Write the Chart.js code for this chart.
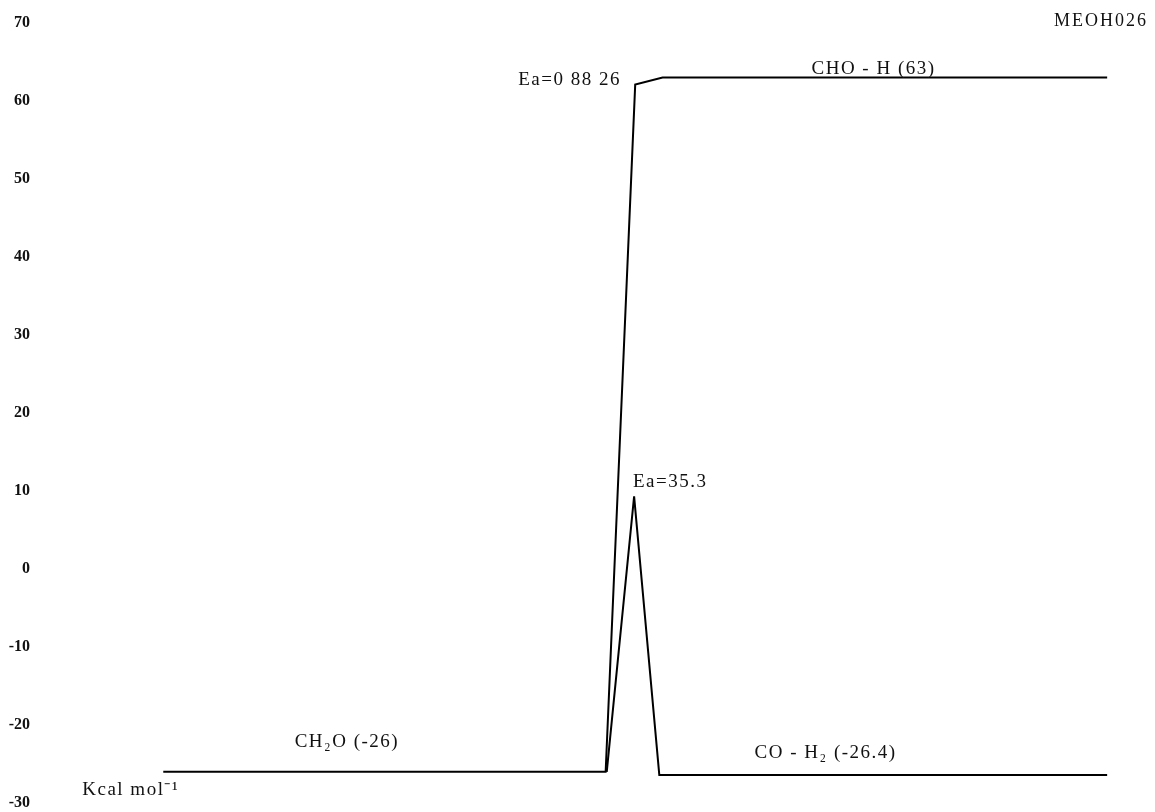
<!DOCTYPE html>
<html lang="en">
<head>
    <meta charset="UTF-8">
    <title>MEOH026 energy profile</title>
    <script src="https://cdn.jsdelivr.net/npm/chart.js"></script>
    <style>
        body { margin: 0; background: #fff; }
        .container { width: 1155px; height: 812px; position: relative; }
    </style>
</head>
<body>
    <div class="container">
        <canvas id="chart"></canvas>
    </div>

    <script>
        // reaction coordinate (0-100) and energy in kcal/mol
        const pathAX = [10.8, 51.2, 53.9, 56.4, 97.0];
        const pathAY = [-26, -26, 62.1, 63, 63];
        const pathBX = [51.3, 53.8, 56.1, 97.0];
        const pathBY = [-26, 9.3, -26.4, -26.4];

        const yTicks = [70, 60, 50, 40, 30, 20, 10, 0, -10, -20, -30];

        // label text, anchor x, anchor y, alignment
        const labelText = ['Ea=0 88 26', 'CHO - H (63)', 'Ea=35.3', 'CH\u2082O (-26)', 'CO - H\u2082 (-26.4)', 'Kcal mol\u207B\u00B9'];
        const labelX = [52.6, 70.0, 53.7, 22.8, 64.8, 3.4];
        const labelY = [62.7, 64.1, 11.2, -22.2, -23.6, -28.3];
        const labelAlign = ['right', 'left', 'left', 'left', 'left', 'left'];

        const toPoints = (xs, ys) => xs.map((x, i) => ({ x: x, y: ys[i] }));

        const labelPlugin = {
            id: 'labels',
            afterDraw(chart) {
                const ctx = chart.ctx;
                const xs = chart.scales.x, ys = chart.scales.y;
                ctx.save();
                ctx.fillStyle = '#111';
                ctx.textBaseline = 'middle';
                ctx.font = '19px "Liberation Serif", serif';
                ctx.letterSpacing = '1.5px';
                labelText.forEach((t, i) => {
                    ctx.textAlign = labelAlign[i];
                    ctx.fillText(t, xs.getPixelForValue(labelX[i]), ys.getPixelForValue(labelY[i]));
                });
                ctx.font = '18px "Liberation Serif", serif';
                ctx.letterSpacing = '2px';
                ctx.textAlign = 'right';
                ctx.fillText('MEOH026', chart.width - 7, 21);
                ctx.restore();
            }
        };

        new Chart(document.getElementById('chart'), {
            type: 'line',
            data: {
                datasets: [{
                    data: toPoints(pathAX, pathAY),
                    borderColor: '#000',
                    borderWidth: 2,
                    pointRadius: 0,
                    fill: false
                }, {
                    data: toPoints(pathBX, pathBY),
                    borderColor: '#000',
                    borderWidth: 2,
                    pointRadius: 0,
                    fill: false
                }]
            },
            options: {
                responsive: true,
                maintainAspectRatio: false,
                animation: false,
                layout: { padding: { top: 23, bottom: 9, right: 15, left: 0 } },
                plugins: { legend: { display: false }, tooltip: { enabled: false } },
                scales: {
                    x: { type: 'linear', display: false, min: 0, max: 100 },
                    y: {
                        min: -30,
                        max: 70,
                        afterFit: s => {
                            s.width = 45;
                            s.paddingTop = 0;
                            s.paddingBottom = 0;
                        },
                        afterBuildTicks: s => { s.ticks = yTicks.map(v => ({ value: v })); },
                        grid: { display: false },
                        border: { display: false },
                        ticks: {
                            padding: 7,
                            color: '#111',
                            font: { family: '"Liberation Serif", serif', size: 16, weight: 'bold' }
                        }
                    }
                }
            },
            plugins: [labelPlugin]
        });
    </script>
</body>
</html>
